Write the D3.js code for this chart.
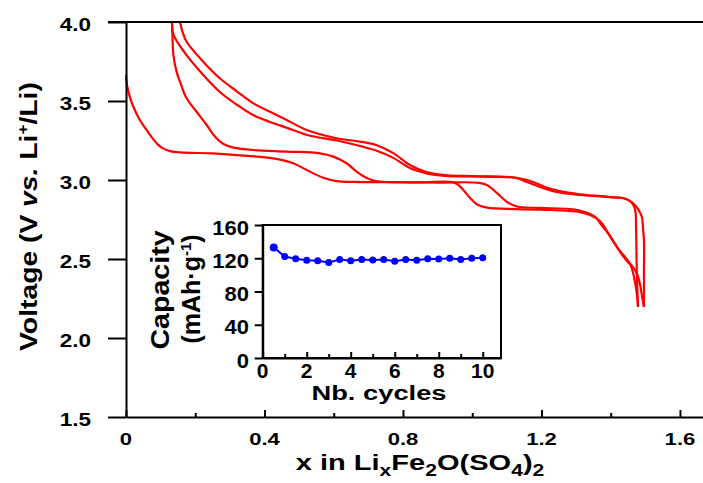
<!DOCTYPE html>
<html><head><meta charset="utf-8">
<script src="https://cdn.jsdelivr.net/npm/d3@7"></script>
<style>
body{margin:0;background:#fff}
text{font-family:"Liberation Sans",Arial,Helvetica,sans-serif;font-weight:bold;fill:#000}
</style>
</head><body><svg id="c" width="703" height="483"></svg>
<script>
// ---- data (x in LixFe2O(SO4)2, voltage V) ----
const discharge1 = [[0.000,3.665],[0.003,3.60],[0.012,3.52],[0.020,3.47],[0.040,3.38],[0.060,3.315],[0.078,3.26],[0.093,3.222],[0.107,3.20],[0.127,3.183],[0.156,3.175],[0.25,3.168],[0.32,3.158],[0.425,3.137],[0.483,3.106],[0.522,3.063],[0.57,3.014],[0.608,2.993],[0.66,2.988],[0.75,2.986],[0.85,2.985],[0.95,2.982],[0.973,2.94],[0.994,2.886],[1.014,2.845],[1.043,2.825],[1.129,2.816],[1.196,2.812],[1.311,2.797],[1.34,2.778],[1.369,2.74],[1.389,2.677],[1.406,2.614],[1.427,2.55],[1.444,2.506],[1.456,2.468],[1.464,2.418],[1.47,2.355],[1.476,2.272],[1.479,2.196]];
const charge1 = [[1.479,2.196],[1.477,2.30],[1.475,2.45],[1.474,2.60],[1.473,2.72],[1.472,2.79],[1.467,2.835],[1.456,2.867],[1.435,2.886],[1.398,2.892],[1.311,2.905],[1.245,2.924],[1.196,2.956],[1.158,2.987],[1.129,3.012],[1.08,3.019],[1.0,3.022],[0.93,3.025],[0.9,3.03],[0.868,3.042],[0.82,3.076],[0.772,3.14],[0.724,3.185],[0.676,3.215],[0.609,3.25],[0.523,3.285],[0.465,3.33],[0.416,3.367],[0.367,3.411],[0.321,3.475],[0.271,3.557],[0.223,3.665],[0.175,3.79],[0.137,3.92],[0.133,4.0]];
const discharge2 = [[0.133,4.0],[0.134,3.918],[0.137,3.79],[0.146,3.686],[0.156,3.622],[0.175,3.517],[0.204,3.432],[0.233,3.348],[0.252,3.288],[0.271,3.245],[0.291,3.218],[0.31,3.205],[0.368,3.19],[0.464,3.18],[0.56,3.169],[0.599,3.148],[0.637,3.106],[0.666,3.053],[0.695,3.013],[0.725,2.992],[0.8,2.986],[0.9,2.984],[1.02,2.982],[1.045,2.965],[1.071,2.918],[1.1,2.862],[1.129,2.832],[1.196,2.823],[1.282,2.816],[1.326,2.797],[1.355,2.766],[1.375,2.71],[1.398,2.646],[1.418,2.576],[1.435,2.52],[1.45,2.48],[1.464,2.45],[1.476,2.405],[1.485,2.335],[1.49,2.27],[1.496,2.196]];
const charge2 = [[1.496,2.196],[1.496,2.40],[1.496,2.62],[1.493,2.70],[1.490,2.766],[1.479,2.816],[1.464,2.854],[1.444,2.88],[1.398,2.892],[1.311,2.91],[1.253,2.93],[1.21,2.956],[1.176,2.987],[1.147,3.006],[1.109,3.019],[1.0,3.025],[0.93,3.03],[0.897,3.038],[0.868,3.05],[0.82,3.095],[0.772,3.17],[0.724,3.22],[0.676,3.243],[0.608,3.264],[0.522,3.316],[0.464,3.38],[0.416,3.432],[0.368,3.485],[0.321,3.56],[0.271,3.644],[0.223,3.749],[0.175,3.875],[0.163,3.94],[0.156,4.0]];
const curves = [discharge1, charge1, discharge2, charge2];

const xTicks = [0, 0.4, 0.8, 1.2, 1.6];
const xMinorTicks = [0.2, 0.6, 1.0, 1.4];
const xTickLabels = ["0", "0.4", "0.8", "1.2", "1.6"];
const vTicks = [1.5, 2.0, 2.5, 3.0, 3.5, 4.0];
const vTickLabels = ["1.5", "2.0", "2.5", "3.0", "3.5", "4.0"];

// ---- inset data ----
const cycles = [0.5,1,1.5,2,2.5,3,3.5,4,4.5,5,5.5,6,6.5,7,7.5,8,8.5,9,9.5,10];
const capacities = [133,122,119.5,117.5,117,115,118.5,117,118.5,118,118.5,116.5,118.5,117.5,119.5,119,120,118.5,120,120.5];
const cycleTicks = [0, 2, 4, 6, 8, 10];
const cycleMinorTicks = [1, 3, 5, 7, 9];
const capTicks = [0, 40, 80, 120, 160];

const W = 703, H = 483;
const svg = d3.select("#c");
svg.append("rect").attr("width", W).attr("height", H).attr("fill", "#fff");

const x = d3.scaleLinear().domain([0, 1.67]).range([126, 704.2]);
const y = d3.scaleLinear().domain([1.5, 4.0]).range([417, 22]);

function styleAxis(g) {
  g.selectAll("path,line").attr("stroke", "#000").attr("stroke-width", 2);
  g.selectAll("text").remove();
}

// curves
const line = d3.line().x(d => x(d[0])).y(d => y(d[1])).curve(d3.curveCatmullRom.alpha(0.5));
svg.append("g").selectAll("path").data(curves).join("path")
  .attr("d", line).attr("fill", "none").attr("stroke", "#ff0000").attr("stroke-width", 2.2)
  .attr("stroke-linejoin", "round");

// top frame line
svg.append("line").attr("x1", x(0) - 18).attr("x2", W).attr("y1", y(4.0)).attr("y2", y(4.0))
  .attr("stroke", "#000").attr("stroke-width", 2);

// left axis
svg.append("g").attr("transform", `translate(${x(0)},0)`)
  .call(d3.axisLeft(y).tickValues(vTicks).tickSize(18).tickSizeOuter(0).tickFormat(""))
  .call(styleAxis);

// bottom axis (inward ticks)
svg.append("g").attr("transform", `translate(0,${y(1.5)})`)
  .call(d3.axisBottom(x).tickValues(xTicks).tickSizeInner(-7).tickSizeOuter(0).tickFormat(""))
  .call(styleAxis);
svg.append("g").attr("transform", `translate(0,${y(1.5)})`)
  .call(d3.axisBottom(x).tickValues(xMinorTicks).tickSizeInner(-4).tickSizeOuter(0).tickFormat(""))
  .call(styleAxis).call(g => g.select(".domain").remove());

// tick labels
svg.append("g").selectAll("text").data(vTicks).join("text")
  .attr("transform", (d) => `translate(91,${y(d) + 9}) scale(1.25,1)`)
  .attr("text-anchor", "end").attr("font-size", 18)
  .text((d, i) => vTickLabels[i]);
svg.append("g").selectAll("text").data(xTicks).join("text")
  .attr("transform", (d) => `translate(${x(d)},445) scale(1.3,1)`)
  .attr("text-anchor", "middle").attr("font-size", 17)
  .text((d, i) => xTickLabels[i]);

// axis titles
const yl = svg.append("text").attr("transform", "translate(37,216.5) rotate(-90) scale(1.23,1)")
  .attr("text-anchor", "middle").attr("font-size", 23);
yl.append("tspan").text("Voltage (V ");
yl.append("tspan").attr("font-style", "italic").text("vs.");
yl.append("tspan").text(" Li");
yl.append("tspan").attr("font-size", 14).attr("dy", -9).text("+");
yl.append("tspan").attr("dy", 9).text("/Li)");

const xl = svg.append("text").attr("transform", "translate(420,470) scale(1.32,1)")
  .attr("text-anchor", "middle").attr("font-size", 22);
const xparts = [["x in Li", 0], ["x", 1], ["Fe", 0], ["2", 1], ["O(SO", 0], ["4", 1], [")", 0], ["2", 1]];
let cur = 0;
xparts.forEach(([t, sub]) => {
  const target = sub ? 6 : 0;
  xl.append("tspan").attr("dy", target - cur).attr("font-size", sub ? 16 : 22).text(t);
  cur = target;
});

// ---- inset ----
const ix = d3.scaleLinear().domain([0, 10.83]).range([262.7, 501]);
const iy = d3.scaleLinear().domain([0, 160]).range([358, 225]);
const inset = svg.append("g");
inset.append("rect").attr("x", ix(0)).attr("y", iy(160))
  .attr("width", ix(10.83) - ix(0)).attr("height", iy(0) - iy(160))
  .attr("fill", "#fff").attr("stroke", "#000").attr("stroke-width", 2);
inset.append("g").attr("transform", `translate(${ix(0)},0)`)
  .call(d3.axisLeft(iy).tickValues(capTicks).tickSize(8).tickSizeOuter(0).tickFormat(""))
  .call(styleAxis);
inset.append("g").attr("transform", `translate(0,${iy(0)})`)
  .call(d3.axisBottom(ix).tickValues(cycleTicks).tickSizeInner(-6).tickSizeOuter(0).tickFormat(""))
  .call(styleAxis);
inset.append("g").attr("transform", `translate(0,${iy(0)})`)
  .call(d3.axisBottom(ix).tickValues(cycleMinorTicks).tickSizeInner(-4).tickSizeOuter(0).tickFormat(""))
  .call(styleAxis).call(g => g.select(".domain").remove());

const capData = cycles.map((c, i) => [c, capacities[i]]);
inset.append("path").datum(capData)
  .attr("d", d3.line().x(d => ix(d[0])).y(d => iy(d[1])))
  .attr("fill", "none").attr("stroke", "#0000ff").attr("stroke-width", 2);
inset.append("g").selectAll("circle").data(capData).join("circle")
  .attr("cx", d => ix(d[0])).attr("cy", d => iy(d[1])).attr("r", (d, i) => i === 0 ? 4 : 3.5)
  .attr("fill", "#0000ff");

inset.append("g").selectAll("text").data(capTicks).join("text")
  .attr("transform", d => `translate(249,${iy(d) + 9.5}) scale(1.1,1)`)
  .attr("text-anchor", "end").attr("font-size", 20).text(d => d);
inset.append("g").selectAll("text").data(cycleTicks).join("text")
  .attr("transform", d => `translate(${ix(d)},378) scale(1.05,1)`)
  .attr("text-anchor", "middle").attr("font-size", 20).text(d => d);

inset.append("text").attr("transform", "translate(379,400) scale(1.3,1)")
  .attr("text-anchor", "middle").attr("font-size", 21).text("Nb. cycles");
inset.append("text").attr("transform", "translate(169,290) rotate(-90) scale(1.1,1)")
  .attr("text-anchor", "middle").attr("font-size", 26).text("Capacity");
const cl = inset.append("text").attr("transform", "translate(200,289) rotate(-90)")
  .attr("text-anchor", "middle").attr("font-size", 25);
cl.append("tspan").text("(mAh·g");
cl.append("tspan").attr("font-size", 15).attr("dy", -9).text("-1");
cl.append("tspan").attr("dy", 9).text(")");
</script></body></html>
